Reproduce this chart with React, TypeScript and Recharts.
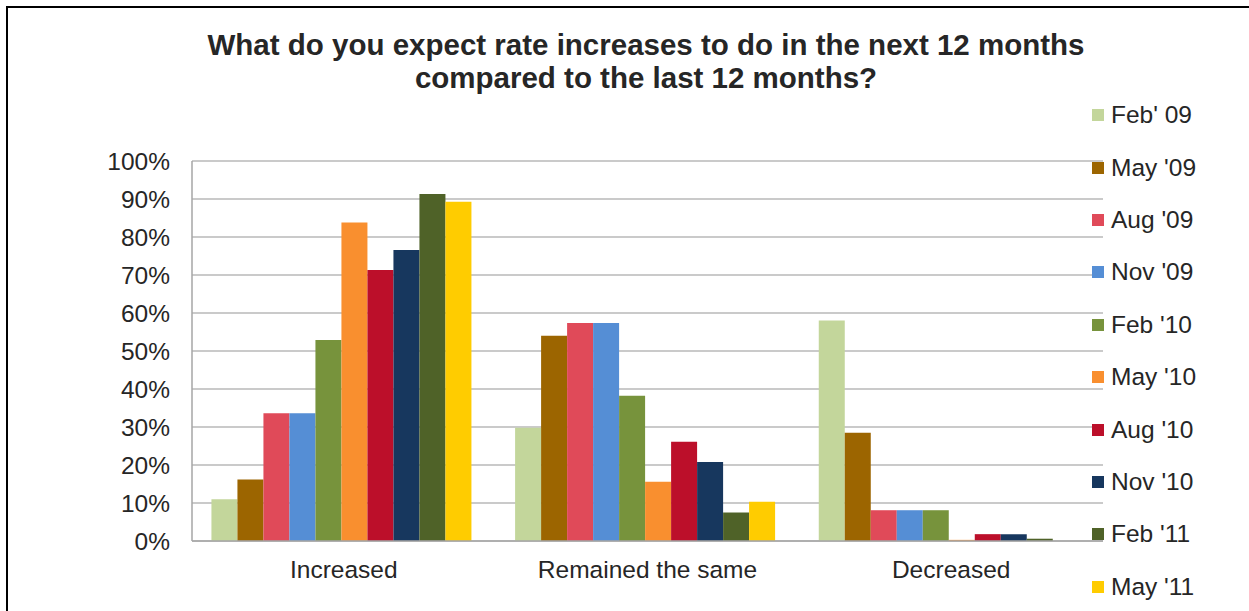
import React from "react";
import { BarChart, Bar, XAxis, YAxis, CartesianGrid } from "recharts";

const categories = ["Increased", "Remained the same", "Decreased"];
const seriesNames = ["Feb' 09", "May '09", "Aug '09", "Nov '09", "Feb '10", "May '10", "Aug '10", "Nov '10", "Feb '11", "May '11"];
const seriesColors = ["#C3D69B", "#9C6500", "#E04A59", "#558ED5", "#77933C", "#F98F2F", "#BC0F2A", "#17375E", "#4F6228", "#FFCC00"];

const feb09 = [11, 29.8, 58];
const may09 = [16.2, 54, 28.5];
const aug09 = [33.6, 57.4, 8.1];
const nov09 = [33.6, 57.4, 8.1];
const feb10 = [52.9, 38.2, 8.1];
const may10 = [83.8, 15.6, 0.3];
const aug10 = [71.3, 26.1, 1.8];
const nov10 = [76.6, 20.8, 1.8];
const feb11 = [91.3, 7.5, 0.6];
const may11 = [89.3, 10.3, 0];

const seriesValues = [feb09, may09, aug09, nov09, feb10, may10, aug10, nov10, feb11, may11];
const yTicks = [0, 10, 20, 30, 40, 50, 60, 70, 80, 90, 100];

const data = categories.map((c, i) => {
  const row: Record<string, string | number> = { category: c };
  seriesNames.forEach((s, j) => {
    row[s] = seriesValues[j][i];
  });
  return row;
});

const FONT = "'Liberation Sans', Arial, sans-serif";
const TEXT = "#262626";
const FS = 24.5;

export default function App() {
  return (
    <div style={{ position: "absolute", left: 0, top: 0, width: 1249, height: 611, background: "#fff", overflow: "hidden" }}>
      <div style={{ position: "absolute", left: 6, top: 6, width: 1300, height: 700, borderTop: "2px solid #000", borderLeft: "2px solid #000" }} />
      <div style={{ position: "absolute", left: 0, top: 28, width: 1292, textAlign: "center", fontFamily: FONT, fontWeight: "bold", fontSize: 29.5, lineHeight: "33px", color: TEXT }}>
        What do you expect rate increases to do in the next 12 months
        <br />
        compared to the last 12 months?
      </div>
      <BarChart
        width={1249}
        height={611}
        data={data}
        margin={{ top: 161, right: 146, bottom: 40, left: 0 }}
        barCategoryGap="6.4%"
        barGap={0}
        style={{ position: "absolute", left: 0, top: 0 }}
      >
        <CartesianGrid vertical={false} stroke="#B8B8B8" strokeWidth={1.5} />
        <XAxis
          dataKey="category"
          height={30}
          tickLine={false}
          tickSize={6}
          tickMargin={14}
          stroke="#A6A6A6"
          strokeWidth={1.5}
          tick={{ fill: TEXT, fontSize: FS, fontFamily: FONT }}
        />
        <YAxis
          width={192}
          domain={[0, 100]}
          ticks={yTicks}
          interval={0}
          tickFormatter={(v: number) => `${v}%`}
          tickLine={false}
          tickSize={6}
          tickMargin={16}
          stroke="#A6A6A6"
          strokeWidth={1.5}
          tick={{ fill: TEXT, fontSize: FS, fontFamily: FONT }}
        />
        {seriesNames.map((s, i) => (
          <Bar key={s} dataKey={s} fill={seriesColors[i]} isAnimationActive={false} />
        ))}
      </BarChart>
      <div style={{ position: "absolute", left: 1092, top: 89, width: 157, fontFamily: FONT, fontSize: FS, color: TEXT }}>
        {seriesNames.map((s, i) => (
          <div key={s} style={{ height: 52.4, display: "flex", alignItems: "center", whiteSpace: "nowrap" }}>
            <span style={{ display: "inline-block", width: 12, height: 12, background: seriesColors[i], marginRight: 7, flex: "none" }} />
            <span>{s}</span>
          </div>
        ))}
      </div>
    </div>
  );
}
